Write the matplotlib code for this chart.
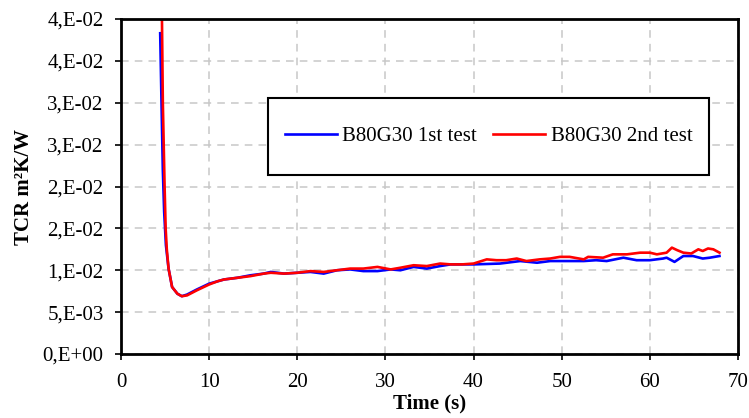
import matplotlib.pyplot as plt
from matplotlib.patches import Rectangle

# Данные
time_1st = [4.45, 4.6, 4.75, 4.9, 5.1, 5.4, 5.8, 6.4, 6.9, 7.5, 8.6, 10.0, 11.7, 13.2,
            14.7, 16.2, 17.0, 18.5, 20.0, 21.5, 23.0, 24.5, 26.0, 27.5, 29.1, 30.6,
            31.7, 33.2, 34.7, 36.2, 37.4, 40.0, 43.0, 45.3, 47.2, 48.7, 50.5, 52.5,
            53.9, 55.1, 57.0, 58.5, 60.0, 61.5, 61.9, 62.8, 63.8, 64.9, 66.0, 66.8, 67.9]
tcr_1st = [0.0383, 0.030, 0.022, 0.017, 0.013, 0.0102, 0.0080, 0.0072, 0.0069, 0.0071,
           0.0077, 0.0084, 0.0089, 0.0091, 0.0094, 0.0096, 0.0098, 0.0096, 0.0097,
           0.0098, 0.0096, 0.0100, 0.0101, 0.0099, 0.0099, 0.0101, 0.0100, 0.0104,
           0.0102, 0.0105, 0.0107, 0.0107, 0.0108, 0.0111, 0.0109, 0.0111, 0.0111,
           0.0111, 0.0112, 0.0111, 0.0115, 0.0112, 0.0112, 0.0114, 0.0115, 0.0110,
           0.0117, 0.0117, 0.0114, 0.0115, 0.0117]

time_2nd = [4.6, 4.75, 4.85, 4.95, 5.07, 5.2, 5.4, 5.8, 6.4, 6.9, 7.5, 8.6, 10.0, 11.0,
            11.7, 13.2, 14.7, 16.2, 17.0, 18.5, 20.0, 21.5, 23.0, 24.5, 26.0, 27.5,
            29.1, 30.6, 31.7, 33.2, 34.7, 36.2, 37.4, 38.7, 40.0, 41.5, 42.6, 43.7,
            44.9, 46.0, 47.5, 48.7, 49.8, 50.9, 52.5, 53.0, 54.7, 55.8, 57.4, 58.9,
            60.0, 60.8, 61.9, 62.5, 63.1, 63.8, 64.7, 65.5, 66.0, 66.6, 67.2, 67.9]
tcr_2nd = [0.0450, 0.030, 0.025, 0.020, 0.015, 0.0125, 0.0102, 0.0080, 0.0072, 0.0069,
           0.0070, 0.0076, 0.0083, 0.0087, 0.0089, 0.0091, 0.0093, 0.0096, 0.0097,
           0.0096, 0.0097, 0.0099, 0.0098, 0.0100, 0.0102, 0.0102, 0.0104, 0.0101,
           0.0103, 0.0106, 0.0105, 0.0108, 0.0107, 0.0107, 0.0108, 0.0113, 0.0112,
           0.0112, 0.0114, 0.0111, 0.0113, 0.0114, 0.0116, 0.0116, 0.0113, 0.0116,
           0.0115, 0.0119, 0.0119, 0.0121, 0.0121, 0.0119, 0.0121, 0.0127, 0.0124,
           0.0121, 0.0120, 0.0125, 0.0123, 0.0126, 0.0125, 0.0121]

x_ticks = [0, 10, 20, 30, 40, 50, 60, 70]
y_ticks = [0.0, 0.005, 0.010, 0.015, 0.020, 0.025, 0.030, 0.035, 0.040]
y_tick_labels = ['0,E+00', '5,E-03', '1,E-02', '2,E-02', '2,E-02',
                 '3,E-02', '3,E-02', '4,E-02', '4,E-02']

plt.rcParams['font.family'] = ['Liberation Serif', 'DejaVu Serif']

fig = plt.figure(figsize=(7.49, 4.18), dpi=100)
ax = fig.add_axes([0.1615, 0.1531, 0.8238, 0.8014])

ax.plot(time_1st, tcr_1st, color='#0000ff', linewidth=1.9, label='B80G30 1st test')
ax.plot(time_2nd, tcr_2nd, color='#ff0000', linewidth=1.9, label='B80G30 2nd test')

ax.set_xlim(0, 70)
ax.set_ylim(0, 0.04)
ax.set_xticks(x_ticks)
ax.set_yticks(y_ticks)
ax.set_yticklabels(y_tick_labels)
ax.tick_params(labelsize=15, direction='out', length=4, width=1.2, color='black')
ax.tick_params(axis='x', pad=10)
ax.tick_params(axis='y', pad=8.5)

ax.grid(True, linestyle=(0, (5, 4)), color='#c8c8c8', linewidth=1.1)
ax.set_axisbelow(True)
for side in ax.spines.values():
    side.set_linewidth(2)
    side.set_color('black')

ax.set_xlabel('Time (s)', fontsize=15, fontweight='bold', labelpad=1)
ax.set_ylabel('TCR m²K/W', fontsize=15, fontweight='bold', labelpad=6)

# Рамка легенды рисуется отдельно, чтобы совпадал размер
ax.add_patch(Rectangle((0.238, 0.534), 0.715, 0.230, transform=ax.transAxes,
                       facecolor='white', edgecolor='black', linewidth=1.5, zorder=4))
ax.legend(loc='center', bbox_to_anchor=(0.5956, 0.649), ncol=2, frameon=False,
          fontsize=15, handlelength=2.5, handletextpad=0.25, columnspacing=0.8)

fig.savefig('out.png', dpi=100)
